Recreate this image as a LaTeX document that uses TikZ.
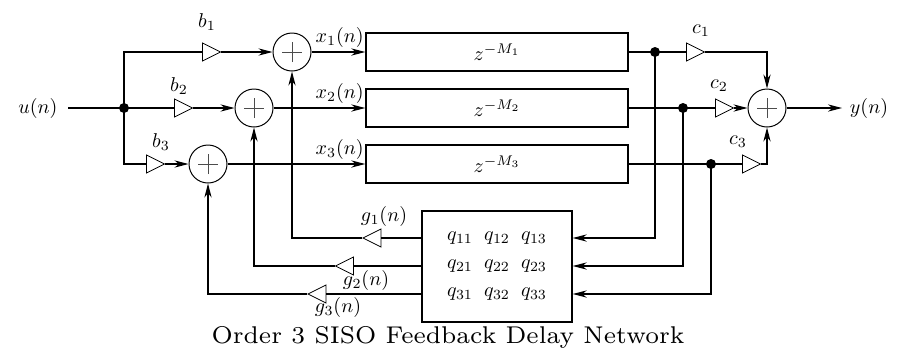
\documentclass[tikz,border=0pt]{standalone}
\usetikzlibrary{arrows.meta,shapes.geometric,calc}
\begin{document}
\begin{tikzpicture}[x=0.5pt,y=-0.5pt,
  sig/.style={line width=0.6pt},
  arr/.style={sig,-{Stealth[length=7pt,width=3.6pt,inset=2.2pt]}},
  gain/.style={draw,line width=0.4pt,shape=isosceles triangle,isosceles triangle stretches,
    minimum width=9pt,minimum height=9pt,inner sep=0pt},
  gainl/.style={gain,shape border rotate=180},
  sumnode/.style={draw,circle,line width=0.5pt,minimum size=19pt,inner sep=0pt,
    path picture={\draw[line width=0.45pt,black!70]
      ($(path picture bounding box.center)+(-5pt,0pt)$) -- ($(path picture bounding box.center)+(5pt,0pt)$)
      ($(path picture bounding box.center)+(0pt,-5pt)$) -- ($(path picture bounding box.center)+(0pt,5pt)$);}},
  delaybox/.style={draw,line width=0.7pt,minimum width=131pt,minimum height=19pt,inner sep=0pt},
  dot/.style={circle,fill,inner sep=0pt,minimum size=5pt},
  lbl/.style={inner sep=0pt}
]
\useasboundingbox (0,0) rectangle (903,355);

% input
\node[lbl] (u) at (38,108) {$u(n)$};
\coordinate (uin) at (68,108);
\node[dot] (j0) at (124,108) {};

% input gains
\node[gain] (b1) at (208,52) {};
\node[gain] (b2) at (180,108) {};
\node[gain] (b3) at (152,164) {};
\node[lbl] (lb1) at (207,22) {$b_1$};
\node[lbl] (lb2) at (179,86) {$b_2$};
\node[lbl] (lb3) at (161,142) {$b_3$};

% sums
\node[sumnode] (s1) at (292,52) {};
\node[sumnode] (s2) at (254,108) {};
\node[sumnode] (s3) at (208,164) {};

% delays
\node[delaybox] (d1) at (497,52) {$z^{-M_1}$};
\node[delaybox] (d2) at (497,108) {$z^{-M_2}$};
\node[delaybox] (d3) at (497,164) {$z^{-M_3}$};
\node[lbl,anchor=south east] (lx1) at (364,48) {$x_1(n)$};
\node[lbl,anchor=south east] (lx2) at (364,104) {$x_2(n)$};
\node[lbl,anchor=south east] (lx3) at (364,160) {$x_3(n)$};

% output taps
\node[dot] (o1) at (655,52) {};
\node[dot] (o2) at (683,108) {};
\node[dot] (o3) at (711,164) {};
\node[gain] (c1) at (692,52) {};
\node[gain] (c2) at (721,108) {};
\node[gain] (c3) at (748,164) {};
\node[lbl] (lc1) at (701,31) {$c_1$};
\node[lbl] (lc2) at (719,86) {$c_2$};
\node[lbl] (lc3) at (738,142) {$c_3$};
\node[sumnode] (so) at (767,108) {};
\coordinate (yend) at (842,108);
\node[lbl] (y) at (869,108) {$y(n)$};

% feedback matrix
\node[draw,line width=0.7pt,minimum width=75pt,minimum height=55.5pt,inner sep=0pt] (Q) at (497,266.5) {};
\foreach \r/\yy in {1/238,2/266,3/294}{
  \foreach \c/\xx in {1/460,2/497,3/534}{
    \node[lbl] (q\r\c) at (\xx,\yy) {$q_{\r\c}$};
  }
}
\node[gainl] (g1) at (375.5,238) {};
\node[gainl] (g2) at (348,266) {};
\node[gainl] (g3) at (320.5,294) {};
\node[lbl] (lg1) at (384,216) {$g_1(n)$};
\node[lbl] (lg2) at (366,280) {$g_2(n)$};
\node[lbl] (lg3) at (338,307) {$g_3(n)$};

% caption
\node[anchor=base,inner sep=0pt] (cap) at (448,343) {\scalebox{1.73}{\fontsize{7pt}{8pt}\selectfont Order 3 SISO Feedback Delay Network}};

% connectors: input
\draw[sig] (uin) -- (j0.center);
\draw[sig] (j0.center) |- (b1);
\draw[sig] (j0.center) -- (b2);
\draw[sig] (j0.center) |- (b3);
\draw[arr] (b1) -- (s1);
\draw[arr] (b2) -- (s2);
\draw[arr] (b3) -- (s3);
\draw[arr] (s1) -- (d1);
\draw[arr] (s2) -- (d2);
\draw[arr] (s3) -- (d3);

% outputs
\draw[sig] (d1) -- (o1.center) -- (c1);
\draw[sig] (d2) -- (o2.center) -- (c2);
\draw[sig] (d3) -- (o3.center) -- (c3);
\draw[arr] (c1) -| (so.north);
\draw[arr] (c2) -- (so);
\draw[arr] (c3) -| (so.south);
\draw[arr] (so) -- (yend);

% feedback into matrix
\draw[arr] (o1.center) |- (Q.east |- g1.center);
\draw[arr] (o2.center) |- (Q.east |- g2.center);
\draw[arr] (o3.center) |- (Q.east |- g3.center);

% matrix out to gains and sums
\draw[sig] (Q.west |- g1.center) -- (g1);
\draw[sig] (Q.west |- g2.center) -- (g2);
\draw[sig] (Q.west |- g3.center) -- (g3);
\draw[arr] (g1) -| (s1.south);
\draw[arr] (g2) -| (s2.south);
\draw[arr] (g3) -| (s3.south);
\end{tikzpicture}
\end{document}
